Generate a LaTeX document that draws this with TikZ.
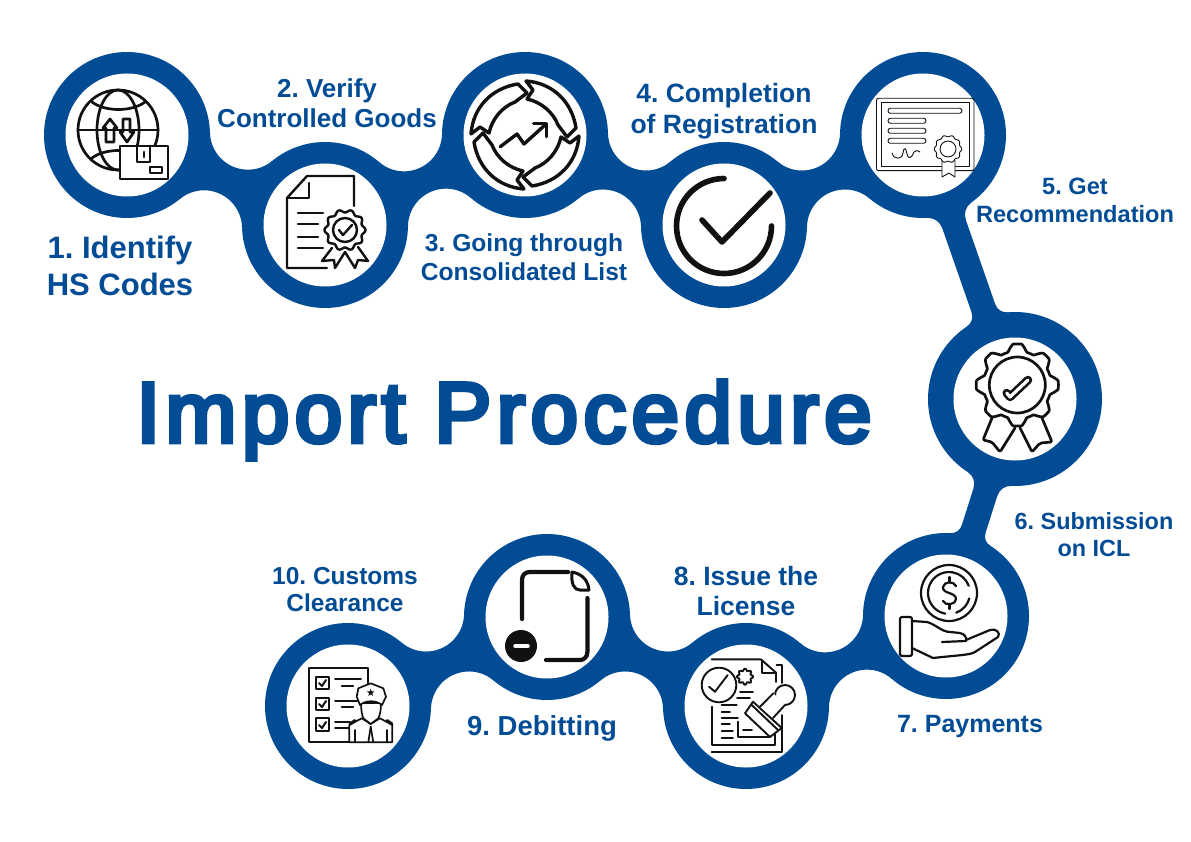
\documentclass[tikz,border=0pt]{standalone}
\usepackage{fontspec}
\usetikzlibrary{shapes.geometric}
\setmainfont{Liberation Sans}
\newfontfamily\titlefont{Liberation Sans}[FakeBold=5.5,LetterSpace=6.6]
\definecolor{brandblue}{HTML}{024C95}
\definecolor{inkline}{HTML}{111111}
\tikzset{
 ring/.style={circle,fill=brandblue,minimum size=166pt,inner sep=0pt,draw=none},
 bigring/.style={circle,fill=brandblue,minimum size=174pt,inner sep=0pt,draw=none},
 hole/.style={circle,fill=white,minimum size=123pt,inner sep=0pt,draw=none},
 link/.style={draw=brandblue,line width=20pt},
 band/.style={draw=brandblue,line width=25pt},
 flesh/.style={fill=brandblue,draw=none},
 lab/.style={text=brandblue,font=\bfseries,align=center,inner sep=0pt},
 ico/.style={draw=inkline,line width=2.4pt,line cap=round,line join=round},
 fine/.style={draw=inkline,line width=0.9pt,line cap=round,line join=round},
}
% filled sector: from point (#1,#2) to the arc about (#5,#6), radius #7, to point (#3,#4)
\newcommand\sectfill[7]{%
 \pgfmathsetmacro\naA{atan2((#2)-(#6),(#1)-(#5))}%
 \pgfmathsetmacro\naB{atan2((#4)-(#6),(#3)-(#5))}%
 \pgfmathsetmacro\naB{(\naB-\naA>180)?(\naB-360):((\naB-\naA<-180)?(\naB+360):\naB)}%
 \pgfmathsetmacro\nTx{(#5)+(#7)*cos(\naA)}%
 \pgfmathsetmacro\nTy{(#6)+(#7)*sin(\naA)}%
 \path[flesh] (#1 pt,#2 pt) -- (\nTx pt,\nTy pt) arc (\naA:\naB:#7 pt) -- (#3 pt,#4 pt) -- cycle;%
}
% concave necks between two rings of radius #3, fillet radius #4
\newcommand\neckfill[4]{%
 \pgfpointanchor{#1}{center}\pgfgetlastxy{\nax}{\nay}%
 \pgfpointanchor{#2}{center}\pgfgetlastxy{\nbx}{\nby}%
 \pgfmathsetmacro\Ax{\nax}\pgfmathsetmacro\Ay{\nay}\pgfmathsetmacro\Bx{\nbx}\pgfmathsetmacro\By{\nby}%
 \pgfmathsetmacro\ndx{\Bx-\Ax}\pgfmathsetmacro\ndy{\By-\Ay}%
 \pgfmathsetmacro\ndd{veclen(\ndx,\ndy)}%
 \pgfmathsetmacro\nh{sqrt((#3+#4-\ndd/2)*(#3+#4+\ndd/2))}%
 \pgfmathsetmacro\Mx{(\Ax+\Bx)/2}\pgfmathsetmacro\My{(\Ay+\By)/2}%
 \pgfmathsetmacro\Px{\Mx-\nh*(\ndy/\ndd)}\pgfmathsetmacro\Py{\My+\nh*(\ndx/\ndd)}%
 \pgfmathsetmacro\Qx{\Mx+\nh*(\ndy/\ndd)}\pgfmathsetmacro\Qy{\My-\nh*(\ndx/\ndd)}%
 \sectfill{\Ax}{\Ay}{\Bx}{\By}{\Px}{\Py}{#4}%
 \sectfill{\Ax}{\Ay}{\Bx}{\By}{\Qx}{\Qy}{#4}%
}
% flare where a band of width #4 leaves ring #1 (radius #3) towards ring #2; fillet radius #5
\newcommand\flarefill[5]{%
 \pgfpointanchor{#1}{center}\pgfgetlastxy{\nax}{\nay}%
 \pgfpointanchor{#2}{center}\pgfgetlastxy{\nbx}{\nby}%
 \pgfmathsetmacro\Ax{\nax}\pgfmathsetmacro\Ay{\nay}\pgfmathsetmacro\Bx{\nbx}\pgfmathsetmacro\By{\nby}%
 \pgfmathsetmacro\ndx{\Bx-\Ax}\pgfmathsetmacro\ndy{\By-\Ay}%
 \pgfmathsetmacro\ndd{veclen(\ndx,\ndy)}%
 \pgfmathsetmacro\fb{#4/2+#5}%
 \pgfmathsetmacro\fx{sqrt((#3+#5-\fb)*(#3+#5+\fb))}%
 \pgfmathsetmacro\Mx{\Ax+\fx*(\ndx/\ndd)}\pgfmathsetmacro\My{\Ay+\fx*(\ndy/\ndd)}%
 \pgfmathsetmacro\Px{\Mx-\fb*(\ndy/\ndd)}\pgfmathsetmacro\Py{\My+\fb*(\ndx/\ndd)}%
 \pgfmathsetmacro\Qx{\Mx+\fb*(\ndy/\ndd)}\pgfmathsetmacro\Qy{\My-\fb*(\ndx/\ndd)}%
 \sectfill{\Ax}{\Ay}{\Mx}{\My}{\Px}{\Py}{#5}%
 \sectfill{\Ax}{\Ay}{\Mx}{\My}{\Qx}{\Qy}{#5}%
}
\begin{document}
\frenchspacing
\begin{tikzpicture}[x=1pt,y=-1pt]
\useasboundingbox (0,0) rectangle (1191,842);
% rings
\node[ring] (c1) at (127,135) {};
\node[ring] (c2) at (325,225) {};
\node[ring] (c3) at (525,135) {};
\node[ring] (c4) at (724,225) {};
\node[ring] (c5) at (923,135) {};
\node[bigring] (c6) at (1015,399) {};
\node[ring] (c7) at (946,616) {};
\node[ring] (c8) at (746,706) {};
\node[ring] (c9) at (547,617) {};
\node[ring] (c10) at (348,706) {};
% links
\draw[link] (c1.center) -- (c2.center);
\draw[link] (c2.center) -- (c3.center);
\draw[link] (c3.center) -- (c4.center);
\draw[link] (c4.center) -- (c5.center);
\draw[band] (c5.center) -- (c6.center);
\draw[band] (c6.center) -- (c7.center);
\draw[link] (c7.center) -- (c8.center);
\draw[link] (c8.center) -- (c9.center);
\draw[link] (c9.center) -- (c10.center);
% fillets
\neckfill{c1}{c2}{83}{38}
\neckfill{c2}{c3}{83}{38}
\neckfill{c3}{c4}{83}{38}
\neckfill{c4}{c5}{83}{38}
\neckfill{c7}{c8}{83}{38}
\neckfill{c8}{c9}{83}{38}
\neckfill{c9}{c10}{83}{38}
\flarefill{c5}{c6}{83}{25}{15}
\flarefill{c6}{c5}{87}{25}{12}
\flarefill{c6}{c7}{87}{25}{14}
\flarefill{c7}{c6}{83}{25}{11}
% holes
\foreach \n/\p in {h1/c1,h2/c2,h3/c3,h4/c4,h5/c5,h6/c6,h7/c7,h8/c8,h9/c9,h10/c10}{
  \node[hole] (\n) at (\p.center) {};
}
% --- icon 1: globe and parcel
\begin{scope}[ico,line width=2.7pt]
\draw (118,130) circle (40);
\draw (118,130) ellipse (21 and 40);
\draw (78,130) -- (158,130);
\draw (92,102) .. controls (105,112) and (132,112) .. (145,102);
\draw (92,158) .. controls (105,148) and (132,148) .. (145,158);
\draw (110,119) -- (117,128) -- (114,128) -- (114,142) -- (106,142) -- (106,128) -- (103,128) -- cycle;
\draw (127,142) -- (134,132) -- (130,132) -- (130,119) -- (123,119) -- (123,132) -- (120,132) -- cycle;
\filldraw[fill=white] (120,146) rectangle (168,179);
\draw (137,146) -- (137,162) -- (150,162) -- (150,146);
\draw (144,152) -- (144,157);
\draw (150,167) rectangle (162,173);
\end{scope}
% --- icon 2: document with rosette
\begin{scope}[ico]
\draw (327,268) -- (287,268) -- (287,198) -- (307,176) -- (354,176) -- (354,206);
\draw (287,198) -- (309,198) -- (309,183);
\draw (298,213) -- (323,213);
\draw (298,224) -- (318,224);
\draw (298,237) -- (318,237);
\draw (298,248) -- (323,248);
\draw (332,248) -- (322,261) -- (334,260) -- (335,268) -- (345,252) -- (355,268) -- (358,260) -- (368,261) -- (358,247);
\filldraw[fill=white] plot[domain=0:360,samples=121] ({345+(19+1.5*cos(10*\x))*cos(\x)},{230+(19+1.5*cos(10*\x))*sin(\x)}) -- cycle;
\draw (345,230) circle (12);
\draw (339,230) -- (343,235) -- (352,225);
\end{scope}
% --- icon 3: four-part cycle with rising arrow
\begin{scope}[ico,line width=3.4pt]
\foreach \r in {0,90,180,270}{
 \begin{scope}[shift={(525,135)},rotate=\r]
 \draw (1,-54) .. controls (28,-52) and (47,-33) .. (51,-7) -- (42,2) -- (33,-10) .. controls (28,-23) and (16,-33) .. (2,-36) -- (8,-45) -- cycle;
 \end{scope}
}
\draw (500.3,146.7) -- (517,134) -- (524,144) -- (545,125);
\draw (533.6,123.3) -- (546.5,123.3) -- (546.5,136.7);
\end{scope}
% --- icon 4: tick in open circle
\begin{scope}[ico,line width=5.6pt]
\draw (724,178.5) arc (270:0:47.5);
\draw (702,220) -- (722,242) -- (770,193);
\end{scope}
% --- icon 5: certificate
\begin{scope}[fine]
\draw[rounded corners=2pt] (876.5,98.3) rectangle (974,170.7);
\draw (881.4,102.7) rectangle (969.4,166.7);
\draw[rounded corners=2.4pt] (888,108.3) rectangle (962,113.3);
\draw[rounded corners=2.4pt] (888,118.3) rectangle (926,123.3);
\draw[rounded corners=2.4pt] (888,128.3) rectangle (926,133.3);
\draw[rounded corners=2.4pt] (888,138.3) rectangle (926,143.3);
\draw (892,153) .. controls (894,160) and (902,160) .. (903,153) .. controls (904,146) and (906,148) .. (907,154) .. controls (908,160) and (912,158) .. (914,152) .. controls (915,150) and (918,150) .. (920,152);
\filldraw[fill=white] (942,160) -- (942,177) -- (949,173) -- (955,177) -- (955,160) -- cycle;
\filldraw[fill=white] plot[domain=0:360,samples=121] ({948+(13+0.8*cos(10*\x))*cos(\x)},{149+(13+0.8*cos(10*\x))*sin(\x)}) -- cycle;
\draw (948,149) circle (8);
\end{scope}
% --- icon 6: gear rosette
\begin{scope}[ico,line width=2.7pt]
\draw[rounded corners=2pt] (992,418) -- (983,440) -- (992,442) -- (1000,452) -- (1015,428);
\draw[rounded corners=2pt] (1020,428) -- (1032,452) -- (1040,443) -- (1052,442) -- (1042,418);
\filldraw[fill=white] plot[domain=0:360,samples=181] ({1017.3+(37.5+3.6*max(-1,min(1,1.5*cos(8*\x))))*cos(\x)},{385+(37.5+3.6*max(-1,min(1,1.5*cos(8*\x))))*sin(\x)}) -- cycle;
\draw (1017.3,385) circle (28);
\draw[line width=8.5pt] (1006.7,393) -- (1010,397) -- (1028,380);
\draw[draw=white,line width=3.2pt] (1006.7,393) -- (1010,397) -- (1028,380);
\end{scope}
% --- icon 7: hand with coin
\begin{scope}[ico,line width=2.2pt]
\draw (949,593) circle (28);
\draw (949,593) ++(100:21) arc (100:340:21);
\draw (949,593) ++(15:21) arc (15:70:21);
\draw (956,586) .. controls (954,581) and (944,581) .. (943,587) .. controls (942,594) and (956,592) .. (956,599) .. controls (956,605) and (945,606) .. (943,601);
\draw (949.5,577) -- (949.5,582);
\draw (949.5,604) -- (949.5,609);
\draw[rounded corners=2pt] (900,617) rectangle (912,656);
\draw (912,621) -- (927,622) .. controls (935,624) and (942,632) .. (950,632) -- (960,633) .. controls (965,634) and (967,638) .. (966,641) -- (942,642);
\draw (966,640) -- (990,630) .. controls (996,628) and (1001,633) .. (998,637) -- (975,652) .. controls (970,655) and (960,655) .. (933,658) -- (912,648);
\end{scope}
% --- icon 8: stamped document
\begin{scope}[ico,line width=1.9pt]
\draw (711.7,659.3) -- (760,659.3) -- (761.7,660) -- (776,672.7) -- (776,682);
\draw (761.7,660) -- (761.7,672.7) -- (776,672.7);
\draw (776.7,665) -- (782,665) -- (782,683);
\draw (719,685) circle (17.3);
\draw (709,686.7) -- (715,691.7) -- (727.7,675);
\draw plot[domain=0:360,samples=91] ({745+(7+1*cos(8*\x))*cos(\x)},{676.7+(7+1*cos(8*\x))*sin(\x)}) -- cycle;
\draw (740,691.7) -- (753,691.7);
\draw (737,698) -- (750,698);
\draw (711.7,706.7) -- (711.7,745) -- (775,745) -- (775,721.7);
\draw (711.7,751.7) -- (781.7,751.7) -- (781.7,715);
\draw (721.7,705) -- (736.7,705);
\draw (721.7,711.7) -- (730,711.7);
\draw (721.7,717.7) -- (738,717.7);
\draw (721.7,724) -- (730,724);
\draw (721.7,730.7) -- (733,730.7);
\draw (721.7,738.3) -- (733,738.3);
\draw (738,721.7) -- (738,737.3) -- (770,737.3);
\draw (743,730) -- (752,730);
\filldraw[fill=white] (745,713.3) -- (753,701.7) -- (781.7,728) -- (770,737) -- cycle;
\draw (751.7,705) -- (778,730);
\filldraw[fill=white] (785,695) circle (10);
\fill[white] (773.3,693.3) -- (785,705) -- (773,718) -- (760,706.7) -- cycle;
\draw (773.3,693.3) -- (760,706.7);
\draw (785,705) -- (773,718);
\end{scope}
% --- icon 9: page with minus
\begin{scope}[ico,line width=4.2pt]
\draw (522,619) -- (522,580) .. controls (522,575) and (525,572) .. (530,572) -- (568,572);
\draw (587.4,598) -- (587.4,652) .. controls (587.4,657) and (584,660) .. (580,660) -- (546,660);
\draw[line width=3pt] (572,572) .. controls (582,574) and (588,580) .. (589,590) -- (580,590) .. controls (574,590) and (571,584) .. (572,572) -- cycle;
\fill[inkline] (521,646) circle (16);
\draw[draw=white,line width=3.5pt] (515,646) -- (528,646);
\end{scope}
% --- icon 10: checklist and officer
\begin{scope}[ico,line width=1.7pt]
\draw (349.3,742.3) -- (309.3,742.3) -- (309.3,667.7) -- (367.7,667.7) -- (367.7,688);
\draw (315.7,676.7) rectangle (329.3,689.3);
\draw (315.7,697.7) rectangle (329.3,710);
\draw (315.7,718.3) rectangle (329.3,731);
\draw[line width=2pt] (319,683) -- (322,686) -- (326,680);
\draw[line width=2pt] (319,704) -- (322,707) -- (326,701);
\draw[line width=2pt] (319,725) -- (322,728) -- (326,722);
\draw (335,679.3) -- (361,679.3);
\draw (341.7,685.7) -- (353.3,685.7);
\draw (335,700.7) -- (358,700.7);
\draw (341.7,706.7) -- (353.3,706.7);
\draw (335,721.7) -- (350,721.7);
\draw (335,727.7) -- (350,727.7);
\filldraw[fill=white] (349.3,742.3) -- (349.3,725) -- (361.7,718.3) -- (370.7,724) -- (380,718.3) -- (392.3,725) -- (392.3,742.3) -- cycle;
\draw (370.7,726.7) -- (368.3,742.3);
\draw (370.7,726.7) -- (373.3,742.3);
\draw (355,730) -- (355,742.3);
\draw (386.7,730) -- (386.7,742.3);
\draw[line width=3pt] (350,724) -- (355,720.5);
\draw[line width=3pt] (387,720.5) -- (392,724);
\filldraw[fill=white] (361,703) .. controls (361,710) and (362,715) .. (363.3,718.3) -- (370.7,724) -- (378.3,718.3) .. controls (380,715) and (381,710) .. (381,703) -- cycle;
\filldraw[fill=white] (356.7,696.7) -- (358.3,688.3) -- (370.7,683.3) -- (383.3,688.3) -- (386,696.7) -- (382,705) .. controls (376,700) and (366,700) .. (360,705) -- cycle;
\node[draw=none,fill=inkline,star,star points=5,star point ratio=2.4,minimum size=8pt,inner sep=0pt] (badge) at (370.7,692.7) {};
\end{scope}
% labels
\node[lab,font=\bfseries\fontsize{31}{37}\selectfont] (t1) at (120,266) {1. Identify\\HS Codes};
\node[lab,font=\bfseries\fontsize{26}{30}\selectfont] (t2) at (327,103) {2. Verify\\Controlled Goods};
\node[lab,font=\bfseries\fontsize{24.6}{29}\selectfont] (t3) at (524,257) {3. Going through\\Consolidated List};
\node[lab,font=\bfseries\fontsize{26.5}{31}\selectfont] (t4) at (724,111) {4. Completion\\of Registration};
\node[lab,font=\bfseries\fontsize{23.6}{28}\selectfont] (t5) at (1075,200) {5. Get\\Recommendation};
\node[lab,font=\bfseries\fontsize{23.4}{27}\selectfont] (t6) at (1094,535) {6. Submission\\on ICL};
\node[lab,font=\bfseries\fontsize{25}{30}\selectfont] (t7) at (970,726) {7. Payments};
\node[lab,font=\bfseries\fontsize{26.5}{30}\selectfont] (t8) at (746,591) {8. Issue the\\License};
\node[lab,font=\bfseries\fontsize{27.5}{30}\selectfont] (t9) at (542,728) {9. Debitting};
\node[lab,font=\bfseries\fontsize{24.5}{27}\selectfont] (t10) at (345,590) {10. Customs\\Clearance};
\node[text=brandblue,inner sep=0pt,anchor=base,font=\titlefont\fontsize{85}{90}\selectfont] (title) at (504,442) {Import Procedure};
\end{tikzpicture}
\end{document}
